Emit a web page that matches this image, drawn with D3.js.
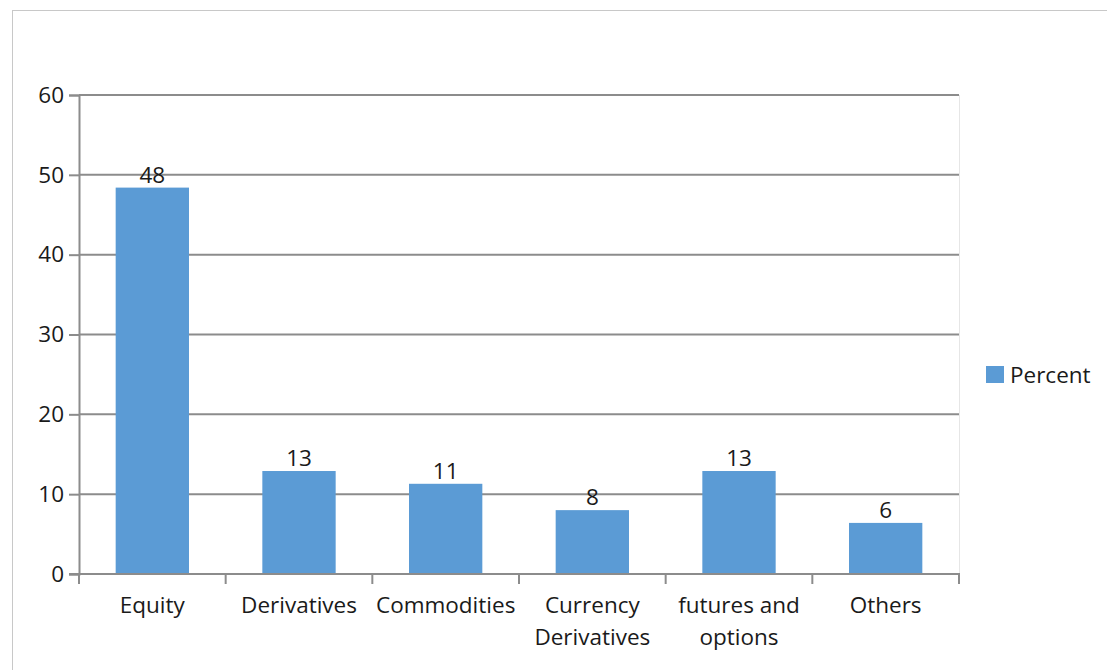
<!DOCTYPE html>
<html>
<head>
<meta charset="utf-8">
<script src="https://cdn.jsdelivr.net/npm/d3@7"></script>
<style>
  body { margin: 0; background: #fff; }
  text { font-family: "Open Sans", sans-serif; fill: #1a1a1a; }
</style>
</head>
<body>
<div id="graph"></div>
<script>
// chart data
let categories = [["Equity"], ["Derivatives"], ["Commodities"], ["Currency", "Derivatives"], ["futures and", "options"], ["Others"]];
let percent = [48.4, 12.9, 11.3, 8.0, 12.9, 6.4];
let yTicks = [0, 10, 20, 30, 40, 50, 60];
let seriesName = "Percent";

let w = 1107;
let h = 670;
let plotLeft = 79, plotRight = 959, plotTop = 95, plotBottom = 574;
let fontSize = 22.5;

let svg = d3.select("#graph")
              .append("svg")
                .attr("width", w)
                .attr("height", h);

// outer frame
svg.append("rect")
    .attr("x", 12.5).attr("y", 10.5)
    .attr("width", w).attr("height", h)
    .attr("fill", "none")
    .attr("stroke", "#c8c8c8");

let keys = categories.map(c => c.join(" "));

let x = d3.scaleBand()
            .domain(keys)
            .range([plotLeft, plotRight])
            .paddingInner(0.5)
            .paddingOuter(0.25);

let y = d3.scaleLinear()
            .domain([0, 60])
            .range([plotBottom, plotTop]);

// light plot border on the right
svg.append("line")
    .attr("x1", plotRight + 0.5).attr("x2", plotRight + 0.5)
    .attr("y1", plotTop).attr("y2", plotBottom)
    .attr("stroke", "#e6e6e6");

// gridlines
svg.selectAll("grid").data(yTicks.slice(1)).enter()
    .append("line")
      .attr("x1", plotLeft).attr("x2", plotRight)
      .attr("y1", d => y(d)).attr("y2", d => y(d))
      .attr("stroke", "#8c8c8c")
      .attr("stroke-width", 2);

// bars
svg.selectAll("bars").data(percent).enter()
    .append("rect")
      .attr("x", (d, i) => x(keys[i]))
      .attr("y", d => y(d))
      .attr("width", x.bandwidth())
      .attr("height", d => y(0) - y(d))
      .attr("fill", "#5b9bd5");

// value labels
svg.selectAll("vals").data(percent).enter()
    .append("text")
      .attr("x", (d, i) => x(keys[i]) + x.bandwidth() / 2)
      .attr("y", d => y(d) - 5)
      .attr("text-anchor", "middle")
      .attr("font-size", fontSize)
      .text(d => d3.format(".0f")(d));

// y axis
let yAxis = d3.axisLeft(y).tickValues(yTicks).tickSize(10).tickPadding(5);
let gy = svg.append("g")
    .attr("transform", "translate(" + plotLeft + ",0)")
    .call(yAxis);
gy.select(".domain").attr("stroke", "#8c8c8c").attr("stroke-width", 2);
gy.selectAll(".tick line").attr("stroke", "#8c8c8c").attr("stroke-width", 2);
gy.selectAll(".tick text").attr("font-size", fontSize).attr("font-family", "'Open Sans', sans-serif").attr("fill", "#1a1a1a");

// x axis line + boundary ticks
svg.append("line")
    .attr("x1", plotLeft - 10).attr("x2", plotRight + 1)
    .attr("y1", plotBottom).attr("y2", plotBottom)
    .attr("stroke", "#8c8c8c").attr("stroke-width", 2);

let bounds = d3.range(keys.length + 1).map(i => plotLeft + i * (plotRight - plotLeft) / keys.length);
svg.selectAll("xticks").data(bounds).enter()
    .append("line")
      .attr("x1", d => d).attr("x2", d => d)
      .attr("y1", plotBottom).attr("y2", plotBottom + 10)
      .attr("stroke", "#8c8c8c").attr("stroke-width", 2);

// category labels
let cat = svg.selectAll("cats").data(categories).enter()
    .append("text")
      .attr("x", (d, i) => x(keys[i]) + x.bandwidth() / 2)
      .attr("y", 613)
      .attr("text-anchor", "middle")
      .attr("font-size", fontSize);
cat.selectAll("tspan").data(d => d).enter()
    .append("tspan")
      .attr("x", function() { return d3.select(this.parentNode).attr("x"); })
      .attr("dy", (d, i) => i == 0 ? 0 : 32)
      .text(d => d);

// legend
svg.append("rect")
    .attr("x", 986).attr("y", 366)
    .attr("width", 18).attr("height", 17)
    .attr("fill", "#5b9bd5");
svg.append("text")
    .attr("x", 1010).attr("y", 383)
    .attr("font-size", fontSize)
    .text(seriesName);
</script>
</body>
</html>
